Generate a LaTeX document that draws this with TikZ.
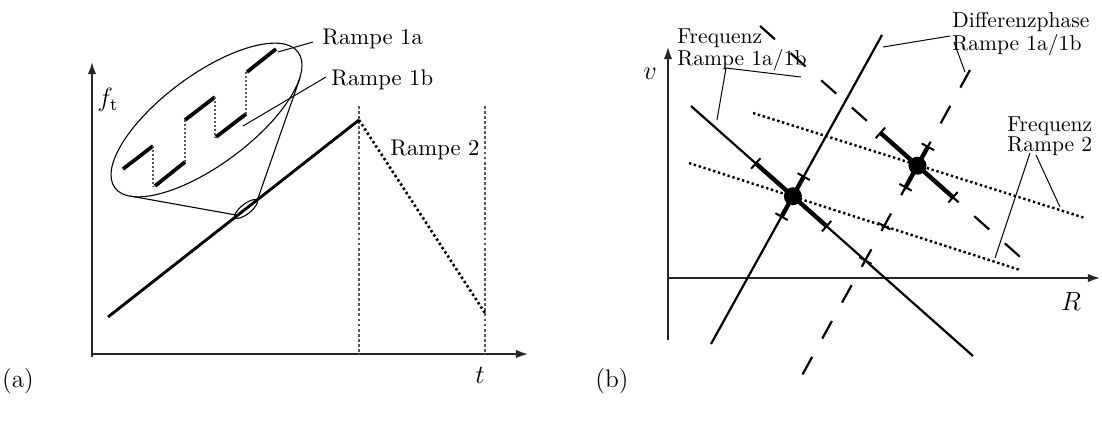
\documentclass[tikz,border=0pt]{standalone}
\usetikzlibrary{calc,arrows.meta}
\newcommand\tickat[2]{\draw[tickmark] ($(#1)!3.2pt!90:(#2)$) -- ($(#1)!3.2pt!-90:(#2)$);}
\begin{document}
\begin{tikzpicture}[x=0.4545pt,y=-0.4545pt,
  axis/.style={black!85,line width=0.7pt,-{Latex[length=5.5pt,width=3.8pt]}},
  ramp/.style={line width=1.3pt},
  dotln/.style={line width=1.2pt,dash pattern=on 1.1pt off 1.2pt},
  guide/.style={black!65,line width=0.5pt,dash pattern=on 1.3pt off 1pt},
  stepseg/.style={line width=1.7pt},
  stepjoin/.style={black!65,line width=0.5pt,dash pattern=on 1pt off 0.8pt},
  lens/.style={line width=0.5pt},
  leader/.style={line width=0.45pt},
  lbl/.style={inner sep=0pt,font=\fontsize{10.3}{12}\selectfont},
  mlbl/.style={inner sep=0pt,font=\fontsize{12}{14}\selectfont},
  rlbl/.style={inner sep=0pt,align=left,anchor=north west,font=\fontsize{9.8}{9.1}\selectfont},
  sol/.style={line width=1pt},
  dsh/.style={line width=1pt,dash pattern=on 9.1pt off 9.5pt},
  rdot/.style={line width=1.1pt,dash pattern=on 1.1pt off 1.2pt},
  unc/.style={line width=2pt},
  tickmark/.style={line width=0.9pt},
  solpt/.style={circle,fill,inner sep=0pt,minimum size=8.2pt}]
\useasboundingbox (0,0) rectangle (1102,421);

% ---------------- left panel (a) ----------------
\draw[axis] (92,357) -- (92,62);
\draw[axis] (92,354) -- (528,354);
\node[mlbl] (ft) at (108,100) {$f_{\mathrm{t}}$};
\node[mlbl,anchor=base] (tl) at (480,383) {$t$};
\node[mlbl,font=\fontsize{11.5}{13}\selectfont] (la) at (18,381) {(a)};
\draw[guide] (359,106) -- (359,354);
\draw[guide] (485,106) -- (485,354);
\coordinate (rs) at (108,317);
\coordinate (rp) at (359,120);
\coordinate (re) at (485,313);
\draw[ramp] (rs) -- (rp);
\draw[dotln] (rp) -- (re);
\node[lbl,anchor=base west] (r2) at (390,155) {Rampe 2};
% magnifier
\coordinate (sc) at (246,209);
\draw[lens,rotate around={38:(sc)}] (sc) ellipse [x radius=14,y radius=5];
\coordinate (bc) at (206.5,120);
\draw[lens,rotate around={36.5:(bc)}] (bc) ellipse [x radius=114,y radius=45];
\coordinate (tg1a) at (130,196);
\coordinate (tg1b) at (236,215);
\coordinate (tg2a) at (300,78);
\coordinate (tg2b) at (257,201);
\draw[lens] (tg1a) -- (tg1b);
\draw[lens] (tg2a) -- (tg2b);
% staircase
\draw[stepseg] (123,169) -- (153,146);
\draw[stepseg] (185,120) -- (215,97);
\draw[stepseg] (247,72) -- (276,49);
\draw[stepseg] (155,186) -- (185,162);
\draw[stepseg] (216,137) -- (246,114);
\draw[stepjoin] (153,146) -- (153,186);
\draw[stepjoin] (185,162) -- (185,120);
\draw[stepjoin] (215,97) -- (215,137);
\draw[stepjoin] (246,114) -- (246,72);
\node[lbl,anchor=base west] (r1a) at (322,44) {Rampe 1a};
\node[lbl,anchor=base west] (r1b) at (331,85) {Rampe 1b};
\coordinate (l1a) at (278,52);
\coordinate (l1b) at (243,126);
\draw[leader] (l1a) -- (313,42);
\draw[leader] (l1b) -- (326,77);

% ---------------- right panel (b) ----------------
\draw[axis] (668,340) -- (668,47);
\draw[axis] (668,278) -- (1100,278);
\node[mlbl] (vl) at (650,74) {$v$};
\node[mlbl] (Rl) at (1071,301) {$R$};
\node[mlbl,font=\fontsize{11.5}{13}\selectfont] (lb) at (612,381) {(b)};

\coordinate (A1) at (691,106);  \coordinate (B1) at (973,356);
\coordinate (A2) at (882,35);   \coordinate (B2) at (711,344);
\coordinate (A3) at (760,26);   \coordinate (B3) at (1027,263);
\coordinate (A4) at (970,70);   \coordinate (B4) at (800,379);
\coordinate (U1) at (753,113);  \coordinate (U2) at (1085,218);
\coordinate (L1) at (689,163);  \coordinate (L2) at (1020,270);

\draw[rdot] (U1) -- (U2);
\draw[rdot] (L1) -- (L2);
\draw[sol] (A1) -- (B1);
\draw[sol] (A2) -- (B2);
\draw[dsh] (A3) -- (B3);
\draw[dsh] (A4) -- (B4);

\coordinate (d1) at (intersection of A1--B1 and A2--B2);
\coordinate (d2) at (intersection of A3--B3 and A4--B4);

% uncertainty intervals
\coordinate (e1a) at ($(d1)!22.5pt!(A1)$);
\coordinate (e1b) at ($(d1)!20.5pt!(B1)$);
\coordinate (e2a) at ($(d1)!10.2pt!(A2)$);
\coordinate (e2b) at ($(d1)!10.6pt!(B2)$);
\coordinate (e3a) at ($(d2)!22.5pt!(A3)$);
\coordinate (e3b) at ($(d2)!21.6pt!(B3)$);
\coordinate (e4a) at ($(d2)!9.8pt!(A4)$);
\coordinate (e4b) at ($(d2)!11.2pt!(B4)$);
\draw[unc] (e1a) -- (e1b);
\draw[unc] (e2a) -- (e2b);
\draw[unc] (e3a) -- (e3b);
\draw[unc] (e4a) -- (e4b);
\tickat{e1a}{A1}\tickat{e1b}{B1}
\tickat{e2a}{A2}\tickat{e2b}{B2}
\tickat{e3a}{A3}\tickat{e3b}{B3}
\tickat{e4a}{A4}\tickat{e4b}{B4}
\coordinate (x1) at (intersection of A4--B4 and L1--L2);
\coordinate (x2) at (intersection of A4--B4 and A1--B1);
\tickat{x1}{A4}\tickat{x2}{A4}
\node[solpt] (p1) at (d1) {};
\node[solpt] (p2) at (d2) {};

% labels
\node[rlbl] (fq1) at (677,28) {Frequenz\\Rampe 1a/1b};
\node[rlbl] (dph) at (952,12) {Differenzphase\\Rampe 1a/1b};
\node[rlbl] (fq2) at (1007,116) {Frequenz\\Rampe 2};
\coordinate (k1) at (726,68);
\draw[leader] (k1) -- (801,77);
\draw[leader] (k1) -- (717,120);
\coordinate (k2) at (950,36);
\draw[leader] (k2) -- (883,47);
\coordinate (k3) at (954,42);
\draw[leader] (k3) -- (965,72);
\coordinate (k4) at (1030,153);
\coordinate (k5) at (1036,155);
\draw[leader] (k4) -- (995,258);
\draw[leader] (k5) -- (1060,207);
\end{tikzpicture}
\end{document}
